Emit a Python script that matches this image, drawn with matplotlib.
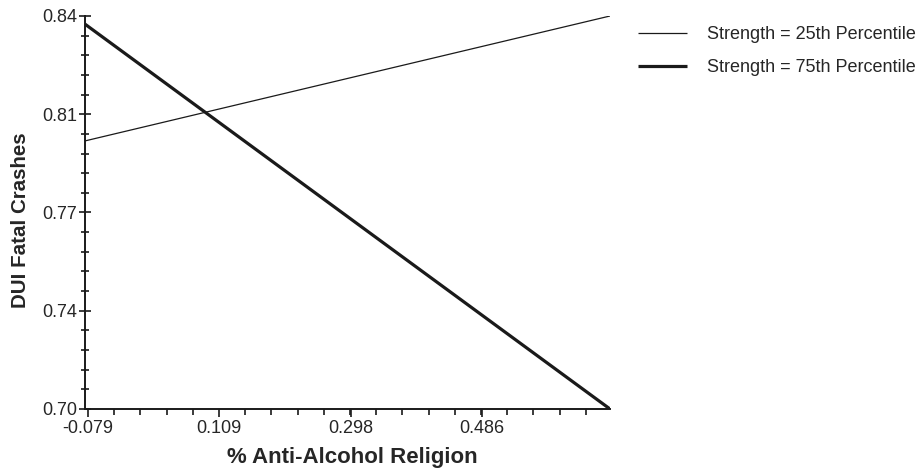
import numpy as np
import matplotlib
matplotlib.use("Agg")
import matplotlib.pyplot as plt
from matplotlib.ticker import FixedLocator, AutoMinorLocator

plt.rcParams['font.family'] = ['Liberation Sans', 'DejaVu Sans']

# Predicted DUI fatal crashes across the range of % anti-alcohol religion
religion = [-0.0833, 0.670]
strength_25 = [0.7955, 0.8400]
strength_75 = [0.8371, 0.7000]

x_ticks = [-0.079, 0.109, 0.298, 0.486]
x_tick_labels = ["-0.079", "0.109", "0.298", "0.486"]
y_ticks = [0.700, 0.735, 0.770, 0.805, 0.840]
y_tick_labels = ["0.70", "0.74", "0.77", "0.81", "0.84"]

text_color = "#262626"

fig = plt.figure(figsize=(9.18, 4.72), dpi=100)
ax = fig.add_axes([85 / 918, 1 - 409 / 472, (610 - 85) / 918, (409 - 16) / 472])

ax.plot(religion, strength_25, color="#1a1a1a", lw=0.9, solid_capstyle="butt",
        label="Strength = 25th Percentile")
ax.plot(religion, strength_75, color="#1a1a1a", lw=2.3, solid_capstyle="butt",
        label="Strength = 75th Percentile")

ax.set_xlim(religion[0], religion[1])
ax.set_ylim(y_ticks[0], y_ticks[-1])

ax.xaxis.set_major_locator(FixedLocator(x_ticks))
ax.set_xticklabels(x_tick_labels)
ax.xaxis.set_minor_locator(FixedLocator(
    np.arange(x_ticks[0], religion[1], (x_ticks[1] - x_ticks[0]) / 5)))
ax.yaxis.set_major_locator(FixedLocator(y_ticks))
ax.set_yticklabels(y_tick_labels)
ax.yaxis.set_minor_locator(AutoMinorLocator(5))

for side in ("top", "right"):
    ax.spines[side].set_visible(False)
for side in ("left", "bottom"):
    ax.spines[side].set_linewidth(1.4)
    ax.spines[side].set_color("#1a1a1a")

ax.tick_params(axis="x", which="major", direction="out", length=6, width=1.2,
               colors="#1a1a1a", labelcolor=text_color, labelsize=13, pad=2)
ax.tick_params(axis="x", which="minor", direction="out", length=4, width=1.2,
               colors="#1a1a1a")
ax.tick_params(axis="y", which="major", direction="inout", length=9, width=1.2,
               colors="#1a1a1a", labelcolor=text_color, labelsize=13, pad=1)
ax.tick_params(axis="y", which="minor", direction="inout", length=6, width=1.2,
               colors="#1a1a1a")

fig.text(352 / 918, 1 - 457 / 472, "% Anti-Alcohol Religion", ha="center",
         va="center", fontsize=16, fontweight="bold", color=text_color)
fig.text(21 / 918, 1 - 220 / 472, "DUI Fatal Crashes", ha="center",
         va="center", rotation=90, fontsize=14.8, fontweight="bold", color=text_color)

leg = ax.legend(loc="upper left", bbox_to_anchor=(622 / 918, 1 - 10 / 472),
                bbox_transform=fig.transFigure, frameon=False, fontsize=13,
                handlelength=2.7, handletextpad=1.1, labelspacing=0.9)
for t in leg.get_texts():
    t.set_color(text_color)

fig.savefig("out.png", dpi=100)
